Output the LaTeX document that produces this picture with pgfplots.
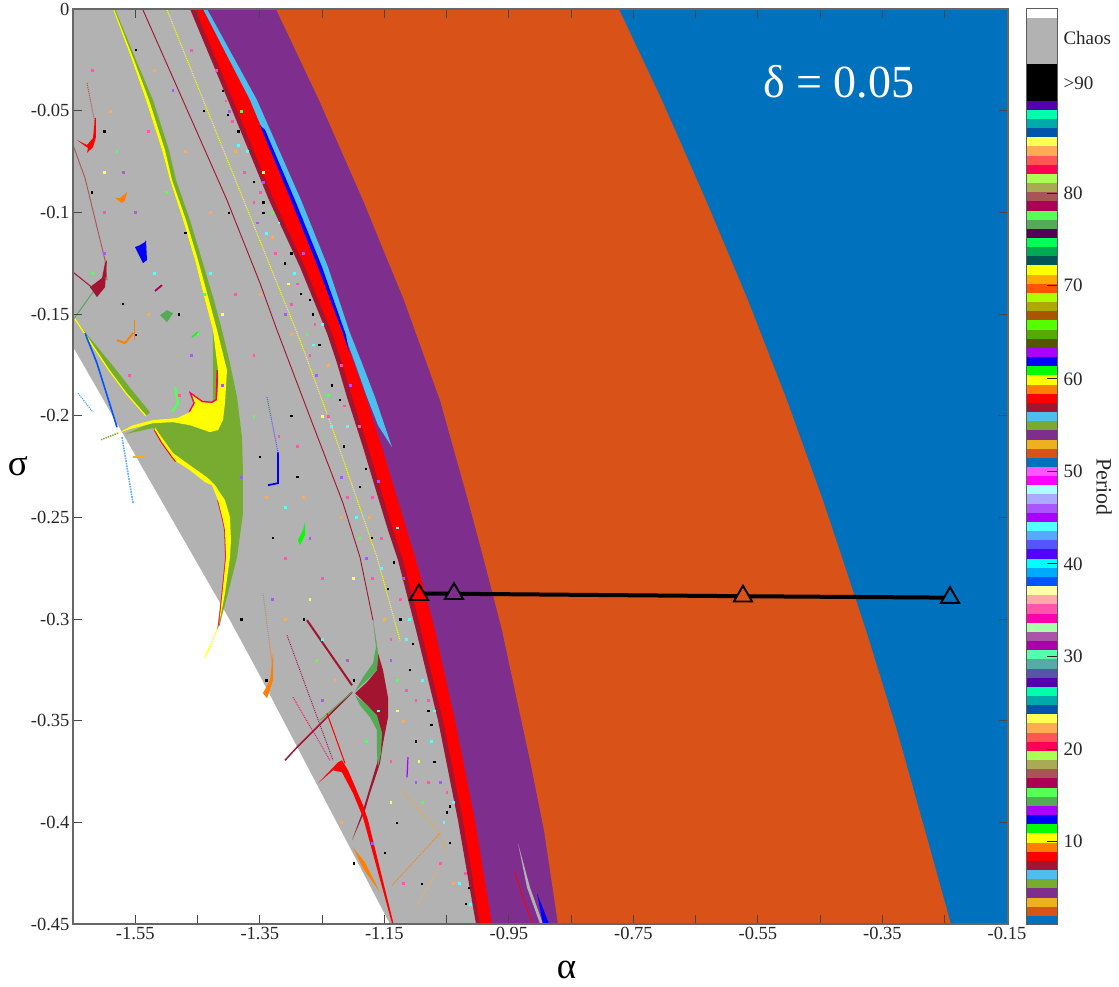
\documentclass[border=0pt]{standalone}
\usepackage{pgfplots}
\pgfplotsset{compat=1.18}
\usepackage{fontspec}
\setmainfont{Liberation Serif}
\newcommand\hx[1]{\definecolor{h#1}{HTML}{#1}}
\hx{0072BD}\hx{D95319}\hx{EDB120}\hx{7E2F8E}\hx{77AC30}\hx{4DBEEE}\hx{A2142F}\hx{FF0000}\hx{FF8000}\hx{FFFF00}
\hx{00FF00}\hx{0000FF}\hx{AA00FF}\hx{55AA55}\hx{55FF55}\hx{AA0055}\hx{AA5555}\hx{AAAA55}\hx{AAFF55}\hx{FF0055}
\hx{FF5555}\hx{FFAA55}\hx{FFFF55}\hx{0055AA}\hx{00AAAA}\hx{00FFAA}\hx{5500AA}\hx{5555AA}\hx{55AAAA}\hx{55FFAA}
\hx{AA00AA}\hx{AA55AA}\hx{AAFFAA}\hx{FF00AA}\hx{FF55AA}\hx{FFAAAA}\hx{FFFFAA}\hx{0055FF}\hx{00AAFF}\hx{00FFFF}
\hx{5500FF}\hx{5555FF}\hx{55AAFF}\hx{55FFFF}\hx{AA55FF}\hx{AAAAFF}\hx{AAFFFF}\hx{FF00FF}\hx{FF55FF}\hx{555500}
\hx{55AA00}\hx{55FF00}\hx{AA5500}\hx{AAAA00}\hx{AAFF00}\hx{FF5500}\hx{FFAA00}\hx{005555}\hx{00AA55}\hx{00FF55}
\hx{550055}\hx{B2B2B2}\hx{000000}\hx{FFFFFF}\hx{262626}
\newcommand\band[3]{\addplot[draw=none,fill=h#1] coordinates {(0,#2)(1,#2)(1,#3)(0,#3)} --cycle;}
\newcommand\reg[2]{\addplot[draw=none,fill=h#1] coordinates {#2} --cycle;}
\newcommand\lin[3]{\addplot[h#1,line width=#2pt] coordinates {#3};}
\newcommand\dtl[3]{\addplot[h#1,line width=#2pt,densely dotted] coordinates {#3};}
\newcommand\spk[2]{\addplot[only marks,color=h#1,mark=square*,mark size=0.9pt,mark options={draw=h#1,fill=h#1,line width=0.1pt}] coordinates {#2};}
\newcommand\spkb[2]{\addplot[only marks,color=h#1,mark=square*,mark size=0.65pt,mark options={draw=h#1,fill=h#1,line width=0.1pt}] coordinates {#2};}
\begin{document}
\begin{tikzpicture}[x=1pt,y=1pt]
\path[use as bounding box] (0,0) rectangle (1119,987);
\begin{axis}[
  at={(73pt,63pt)},anchor=south west,scale only axis,width=935pt,height=915pt,
  xmin=-1.65,xmax=-0.1484,ymin=-0.45,ymax=0,
  axis on top,axis line style={color=h262626!70,line width=1.2pt},
  tick align=inside,major tick length=9pt,
  tick style={color=h262626!85,line width=0.9pt},
  xtick={-1.55,-1.45,-1.35,-1.25,-1.15,-1.05,-0.95,-0.85,-0.75,-0.65,-0.55,-0.45,-0.35,-0.25,-0.15},
  xticklabels={-1.55,,-1.35,,-1.15,,-0.95,,-0.75,,-0.55,,-0.35,,-0.15},
  ytick={0,-0.05,-0.1,-0.15,-0.2,-0.25,-0.3,-0.35,-0.4,-0.45},
  yticklabels={0,-0.05,-0.1,-0.15,-0.2,-0.25,-0.3,-0.35,-0.4,-0.45},
  ticklabel style={font=\fontsize{18.5}{20}\selectfont,text=h262626},
  xlabel={α},ylabel={σ},
  x label style={at={(axis description cs:0.528,-0.050)},anchor=center,inner sep=0pt,font=\fontsize{37}{38}\selectfont},
  y label style={at={(axis description cs:-0.0589,0.5005)},rotate=-90,anchor=center,inner sep=0pt,font=\fontsize{37}{38}\selectfont},
]
% chaos / background region
\reg{B2B2B2}{(-1.65,0)(-0.8036,0)(-0.8036,-0.45)(-1.1409,-0.45)(-1.3545,-0.3252)(-1.3979,-0.3006)(-1.6468,-0.1678)(-1.65,-0.1663)}
% specks
\spkb{000000}{(-1.41,-.04)(-1.385,-.06)(-1.36,-.085)(-1.345,-.10)(-1.31,-.125)(-1.30,-.12)(-1.285,-.14)(-1.265,-.15)(-1.255,-.165)(-1.235,-.185)(-1.215,-.215)(-1.19,-.235)(-1.17,-.26)(-1.145,-.285)(-1.125,-.30)(-1.11,-.325)(-1.08,-.345)(-1.07,-.37)(-1.05,-.395)(-1.045,-.41)(-1.02,-.44)(-1.1,-.36)(-1.13,-.40)(-1.20,-.33)(-1.28,-.30)(-1.33,-.26)(-1.55,-.02)(-1.60,-.06)(-1.47,-.11)(-1.57,-.145)(-1.48,-.15)(-1.55,-.16)(-1.40,-.10)(-1.44,-.05)(-1.35,-.22)(-1.30,-.20)(-1.29,-.23)(-1.38,-.30)(-1.34,-.33)(-1.2,-.42)(-1.15,-.415)(-1.09,-.43)(-1.62,-.09)(-1.402,-.052)(-1.345,-.095)(-1.27,-.143)(-1.222,-.192)(-1.18,-.226)(-1.135,-.272)(-1.105,-.312)(-1.075,-.352)(-1.045,-.392)(-1.015,-.432)}
\spk{FF55AA}{(-1.42,-.03)(-1.395,-.055)(-1.35,-.09)(-1.325,-.12)(-1.30,-.145)(-1.27,-.17)(-1.24,-.20)(-1.21,-.24)(-1.17,-.28)(-1.14,-.31)(-1.10,-.34)(-1.08,-.38)(-1.06,-.42)(-1.62,-.03)(-1.60,-.10)(-1.53,-.06)(-1.46,-.02)(-1.39,-.14)(-1.36,-.17)(-1.32,-.21)(-1.25,-.28)(-1.31,-.27)(-1.14,-.37)(-1.12,-.43)(-1.48,-.19)(-1.56,-.18)(-1.29,-.215)(-1.405,-.045)(-1.36,-.095)(-1.29,-.135)(-1.262,-.155)(-1.215,-.195)(-1.17,-.24)(-1.125,-.29)(-1.08,-.34)(-1.05,-.385)(-1.02,-.425)(-1.375,-.08)(-1.22,-.175)(-1.19,-.205)(-1.155,-.26)(-1.115,-.335)}
\spk{55FFFF}{(-1.37,-.07)(-1.34,-.11)(-1.295,-.13)(-1.265,-.165)(-1.235,-.205)(-1.195,-.25)(-1.155,-.275)(-1.115,-.31)(-1.09,-.33)(-1.075,-.36)(-1.055,-.40)(-1.03,-.43)(-1.43,-.13)(-1.52,-.13)(-1.31,-.245)(-1.25,-.31)(-1.16,-.345)(-1.385,-.067)(-1.32,-.105)(-1.25,-.155)(-1.21,-.205)(-1.13,-.255)(-1.11,-.30)(-1.07,-.345)(-1.04,-.39)(-1.012,-.44)}
\spk{AA55FF}{(-1.40,-.05)(-1.355,-.105)(-1.31,-.15)(-1.26,-.18)(-1.22,-.23)(-1.18,-.27)(-1.14,-.32)(-1.10,-.38)(-1.06,-.38)(-1.60,-.12)(-1.57,-.08)(-1.49,-.04)(-1.55,-.10)(-1.46,-.17)(-1.41,-.185)(-1.38,-.23)(-1.33,-.29)(-1.27,-.26)(-1.21,-.32)(-1.17,-.41)(-1.25,-.34)(-1.345,-.085)(-1.28,-.12)(-1.205,-.185)(-1.16,-.232)(-1.12,-.28)}
\spk{55FF55}{(-1.38,-.05)(-1.33,-.10)(-1.275,-.16)(-1.24,-.19)(-1.19,-.26)(-1.13,-.33)(-1.09,-.39)(-1.58,-.07)(-1.50,-.09)(-1.44,-.14)(-1.36,-.20)(-1.26,-.32)(-1.18,-.36)(-1.45,-.16)(-1.62,-.13)}
\spk{FFAA55}{(-1.39,-.07)(-1.30,-.16)(-1.22,-.25)(-1.15,-.30)(-1.12,-.35)(-1.04,-.43)(-1.59,-.05)(-1.52,-.03)(-1.47,-.07)(-1.53,-.15)(-1.43,-.10)(-1.35,-.14)(-1.31,-.30)(-1.28,-.24)(-1.23,-.33)(-1.22,-.40)(-1.34,-.24)(-1.33,-.112)(-1.24,-.175)(-1.175,-.25)}
\spk{FFFF55}{(-1.345,-.08)(-1.305,-.135)(-1.25,-.20)(-1.20,-.28)(-1.13,-.345)(-1.095,-.37)(-1.14,-.39)(-1.60,-.08)(-1.41,-.15)(-1.27,-.29)}
% thin lines
\lin{A2142F}{0.9}{(-1.5376,-0.0005)(-1.4573,-0.0561)(-1.4027,-0.0940)(-1.3497,-0.1348)(-1.3224,-0.1579)(-1.2694,-0.2007)(-1.2164,-0.2430)(-1.1891,-0.2696)(-1.1682,-0.3006)}
\dtl{FFFF00}{1}{(-1.4990,-0.0005)(-1.2854,-0.1629)(-1.2324,-0.2071)(-1.1618,-0.2696)(-1.1248,-0.3105)}
\lin{AA5555}{0.9}{(-1.65,-0.0669)(-1.6307,-0.0831)(-1.5986,-0.1235)(-1.5954,-0.1333)}
\dtl{AA5555}{1}{(-1.6275,-0.0364)(-1.6147,-0.0561)}
\dtl{5555FF}{1}{(-1.3384,-0.1909)(-1.3208,-0.2180)}
\dtl{FF8000}{1}{(-1.3449,-0.2873)(-1.3288,-0.3252)}
% left diagonal band
\reg{77AC30}{(-1.65,-0.1510)(-1.6307,-0.1589)(-1.5842,-0.1761)(-1.5552,-0.1875)(-1.5263,-0.1983)(-1.5328,-0.2002)(-1.5649,-0.1889)(-1.5922,-0.1776)}
\lin{FFFF00}{1.2}{(-1.65,-0.1510)(-1.5922,-0.1776)(-1.5649,-0.1889)(-1.5328,-0.2002)}
\lin{0055FF}{1.6}{(-1.6307,-0.1594)(-1.6115,-0.1742)(-1.5793,-0.2057)}
\dtl{55AAFF}{1.6}{(-1.5713,-0.2106)(-1.5536,-0.2430)}
\dtl{55AAFF}{1.2}{(-1.642,-0.1889)(-1.6179,-0.1983)}
% main long band
\reg{77AC30}{(-1.5858,0)(-1.5552,-0.0251)(-1.5328,-0.0448)(-1.5071,-0.0694)(-1.4942,-0.0841)(-1.4733,-0.1038)(-1.4541,-0.1235)(-1.4380,-0.1432)(-1.4252,-0.1579)(-1.4107,-0.1579)(-1.4236,-0.1432)(-1.4428,-0.1235)(-1.4621,-0.1038)(-1.4846,-0.0841)(-1.4958,-0.0694)(-1.5215,-0.0448)(-1.5488,-0.0251)(-1.5825,0)}
\reg{FFFF00}{(-1.5858,0)(-1.5552,-0.0251)(-1.5328,-0.0448)(-1.5071,-0.0694)(-1.4942,-0.0841)(-1.4733,-0.1038)(-1.4541,-0.1235)(-1.4380,-0.1432)(-1.4252,-0.1579)(-1.4187,-0.1579)(-1.4316,-0.1432)(-1.4492,-0.1235)(-1.4685,-0.1038)(-1.4910,-0.0841)(-1.5022,-0.0694)(-1.5279,-0.0448)(-1.5520,-0.0251)(-1.5842,0)}
% big star
\reg{77AC30}{(-1.4252,-0.1579)(-1.4107,-0.1579)(-1.3979,-0.1742)(-1.3866,-0.1909)(-1.3786,-0.2106)(-1.3770,-0.2283)(-1.3770,-0.2480)(-1.3866,-0.2696)(-1.4011,-0.2873)(-1.4139,-0.3021)(-1.4187,-0.3055)(-1.4107,-0.2859)(-1.4059,-0.2711)(-1.4075,-0.2499)(-1.4187,-0.2352)(-1.4348,-0.2307)(-1.4621,-0.2244)(-1.4862,-0.2209)(-1.5055,-0.2130)(-1.5215,-0.2061)(-1.5665,-0.2091)(-1.5215,-0.2032)(-1.4460,-0.2022)(-1.4252,-0.1924)}
\lin{FF0055}{3}{(-1.4621,-0.1983)(-1.4541,-0.1938)(-1.4589,-0.1899)(-1.4428,-0.1934)(-1.4268,-0.1938)(-1.4187,-0.1924)(-1.4171,-0.1776)}
\lin{FF0055}{1.6}{(-1.4155,-0.3031)(-1.4107,-0.2893)(-1.4043,-0.2696)(-1.4059,-0.2563)(-1.4091,-0.2514)(-1.4171,-0.2416)}
\lin{FF0000}{2.2}{(-1.4846,-0.2224)(-1.4910,-0.2199)(-1.5071,-0.2130)(-1.5183,-0.2071)}
\reg{FFFF00}{(-1.4252,-0.1579)(-1.4187,-0.1579)(-1.4027,-0.1776)(-1.4059,-0.1938)(-1.4091,-0.2022)(-1.4171,-0.2071)(-1.4300,-0.2081)(-1.4621,-0.2047)(-1.4894,-0.2032)(-1.5215,-0.2037)(-1.5585,-0.2066)(-1.5777,-0.2086)(-1.5536,-0.2047)(-1.5215,-0.2022)(-1.4830,-0.2012)(-1.4621,-0.1983)(-1.4541,-0.1938)(-1.4589,-0.1899)(-1.4428,-0.1934)(-1.4268,-0.1938)(-1.4187,-0.1924)(-1.4171,-0.1840)(-1.4171,-0.1776)}
\reg{FFFF00}{(-1.5183,-0.2057)(-1.5135,-0.2081)(-1.4894,-0.2184)(-1.4621,-0.2244)(-1.4348,-0.2303)(-1.4219,-0.2342)(-1.4059,-0.2416)(-1.3979,-0.2499)(-1.3963,-0.2613)(-1.3979,-0.2696)(-1.4059,-0.2873)(-1.4139,-0.3006)(-1.4155,-0.3031)(-1.4107,-0.2893)(-1.4043,-0.2696)(-1.4059,-0.2563)(-1.4091,-0.2514)(-1.4171,-0.2416)(-1.4268,-0.2342)(-1.4380,-0.2327)(-1.4621,-0.2268)(-1.4846,-0.2224)(-1.4910,-0.2199)(-1.5071,-0.2130)(-1.5183,-0.2071)}
\dtl{FFFF00}{1.4}{(-1.4187,-0.3055)(-1.4380,-0.3190)}
\dtl{77AC30}{1.4}{(-1.5777,-0.2086)(-1.6060,-0.2120)}
\lin{EDB120}{1.5}{(-1.5536,-0.2204)(-1.5343,-0.2204)}
% crimson star with lines
\reg{A2142F}{(-1.1682,-0.3006)(-1.1602,-0.3168)(-1.1521,-0.3252)(-1.1441,-0.3385)(-1.1441,-0.3483)(-1.1521,-0.3611)(-1.1570,-0.3710)(-1.1730,-0.3857)(-1.1810,-0.3941)(-1.2019,-0.4089)(-1.1843,-0.3941)(-1.1618,-0.3710)(-1.1537,-0.3562)(-1.1618,-0.3483)(-1.1778,-0.3424)(-1.1971,-0.3365)(-1.1778,-0.3311)(-1.1618,-0.3252)(-1.1602,-0.3168)(-1.1650,-0.3070)}
\reg{55AA55}{(-1.1682,-0.3006)(-1.1602,-0.3168)(-1.1618,-0.3252)(-1.1778,-0.3301)(-1.1971,-0.3355)(-1.1843,-0.3287)(-1.1682,-0.3218)(-1.1634,-0.3139)}
\reg{55AA55}{(-1.1971,-0.3375)(-1.1778,-0.3424)(-1.1618,-0.3474)(-1.1537,-0.3562)(-1.1554,-0.3660)(-1.1602,-0.3729)(-1.1618,-0.3660)(-1.1618,-0.3547)(-1.1730,-0.3483)(-1.1891,-0.3424)}
\lin{A2142F}{2}{(-1.2742,-0.3006)(-1.2019,-0.3326)}
\lin{A2142F}{1.5}{(-1.2019,-0.3360)(-1.2903,-0.3631)(-1.3095,-0.3695)}
\lin{55AA55}{0.9}{(-1.2019,-0.3360)(-1.2540,-0.3500)}
\reg{FF0000}{(-1.2244,-0.3705)(-1.2565,-0.3808)(-1.2324,-0.3744)(-1.2180,-0.3754)(-1.2003,-0.3857)(-1.1843,-0.3975)(-1.1377,-0.4497)(-1.1345,-0.4507)(-1.1762,-0.3990)(-1.1843,-0.3916)(-1.2083,-0.3744)(-1.2180,-0.3695)}
\lin{FF0000}{1}{(-1.2421,-0.3464)(-1.2132,-0.3710)}
\dtl{AA0055}{0.9}{(-1.3063,-0.3080)(-1.2324,-0.3695)}
\dtl{FF0055}{0.9}{(-1.2967,-0.3385)(-1.2373,-0.3695)}
% small features
\reg{FF0000}{(-1.6131,-0.0536)(-1.6131,-0.0630)(-1.6179,-0.0679)(-1.6275,-0.0708)(-1.6259,-0.0684)(-1.6436,-0.0645)(-1.6275,-0.0669)(-1.6179,-0.0635)(-1.6147,-0.0536)}
\reg{A2142F}{(-1.5954,-0.1235)(-1.5986,-0.1368)(-1.6115,-0.1417)(-1.6227,-0.1368)(-1.6034,-0.1323)(-1.5986,-0.1250)}
\lin{A2142F}{1}{(-1.65,-0.1294)(-1.6179,-0.1373)}
\lin{55AA55}{1}{(-1.65,-0.1530)(-1.6179,-0.1392)}
\reg{FF8000}{(-1.3288,-0.3168)(-1.3288,-0.3301)(-1.3384,-0.3390)(-1.3449,-0.3365)(-1.3336,-0.3301)}
\reg{FF8000}{(-1.2003,-0.4123)(-1.1810,-0.4197)(-1.1570,-0.4344)(-1.1843,-0.4226)}
\dtl{FFAA00}{0.9}{(-1.1200,-0.3852)(-1.0654,-0.4039)(-1.0494,-0.4138)}
\dtl{FF8000}{0.9}{(-1.1377,-0.4310)(-1.0606,-0.4054)}
\dtl{FFAA55}{0.9}{(-1.0975,-0.4408)(-1.0574,-0.4197)}
\lin{AA00FF}{1.2}{(-1.1120,-0.3680)(-1.1136,-0.3779)}
\lin{0000FF}{1.8}{(-1.3208,-0.2180)(-1.3208,-0.2332)(-1.3368,-0.2342)}
\reg{00FF00}{(-1.2774,-0.2524)(-1.2774,-0.2588)(-1.2854,-0.2637)(-1.2886,-0.2613)(-1.2806,-0.2563)}
\lin{55FF55}{2.4}{(-1.4862,-0.1860)(-1.4814,-0.1938)(-1.4910,-0.1983)}
\lin{FF8000}{2}{(-1.5536,-0.1594)(-1.5665,-0.1643)(-1.5793,-0.1629)}
\lin{00FF00}{1.4}{(-1.4492,-0.1589)(-1.4589,-0.1614)}
\reg{FF8000}{(-1.5633,-0.0900)(-1.5665,-0.0940)(-1.5713,-0.0954)(-1.5825,-0.0930)(-1.5745,-0.0930)}
\reg{0000FF}{(-1.5328,-0.1137)(-1.5312,-0.1235)(-1.5376,-0.1250)(-1.5424,-0.1220)(-1.5504,-0.1171)(-1.5424,-0.1161)(-1.5344,-0.1146)}
\reg{55AA55}{(-1.4894,-0.1496)(-1.4990,-0.1540)(-1.5103,-0.1506)(-1.4990,-0.1481)}
\lin{AA0055}{1.8}{(-1.5183,-0.1387)(-1.5071,-0.1358)}
\lin{FF8000}{1}{(-1.5520,-0.1530)(-1.5520,-0.1629)}
% crimson, red, purple, orange, blue regions: each from its left edge to the right side
\reg{A2142F}{(-1.4621,0)(-1.4011,-0.0448)(-1.3352,-0.0940)(-1.2854,-0.1269)(-1.2421,-0.1594)(-1.2260,-0.1742)(-1.2100,-0.1909)(-1.1843,-0.2155)(-1.1602,-0.2401)(-1.1441,-0.2563)(-1.1280,-0.2711)(-1.1136,-0.2883)(-1.0991,-0.3055)(-1.0638,-0.3498)(-1.0317,-0.3990)(-1.0028,-0.45)(-0.1484,-0.45)(-0.1484,0)}
\reg{FF0000}{(-1.4541,0)(-1.3930,-0.0448)(-1.3272,-0.0940)(-1.2774,-0.1269)(-1.2340,-0.1594)(-1.2180,-0.1742)(-1.2019,-0.1909)(-1.1762,-0.2155)(-1.1521,-0.2401)(-1.1361,-0.2563)(-1.1200,-0.2711)(-1.1056,-0.2883)(-1.0911,-0.3055)(-1.0558,-0.3498)(-1.0237,-0.3990)(-0.9964,-0.45)(-0.1484,-0.45)(-0.1484,0)}
\reg{7E2F8E}{(-1.4412,0)(-1.3657,-0.0448)(-1.2999,-0.0940)(-1.2565,-0.1269)(-1.2164,-0.1594)(-1.1987,-0.1742)(-1.1794,-0.1909)(-1.1537,-0.2155)(-1.1297,-0.2401)(-1.1136,-0.2563)(-1.0991,-0.2711)(-1.0831,-0.2883)(-1.0686,-0.3055)(-1.0365,-0.3498)(-1.0044,-0.3990)(-0.9771,-0.45)(-0.1484,-0.45)(-0.1484,0)}
\reg{D95319}{(-1.3240,0)(-1.2549,-0.0448)(-1.1843,-0.0940)(-1.1184,-0.1432)(-1.0606,-0.1924)(-1.0156,-0.2416)(-0.9899,-0.2711)(-0.9610,-0.3055)(-0.9369,-0.3400)(-0.9161,-0.3695)(-0.8936,-0.4039)(-0.8711,-0.45)(-0.1484,-0.45)(-0.1484,0)}
\reg{0072BD}{(-0.7731,0)(-0.7041,-0.0448)(-0.6334,-0.0940)(-0.5659,-0.1432)(-0.5033,-0.1924)(-0.4455,-0.2416)(-0.4134,-0.2711)(-0.3764,-0.3055)(-0.3267,-0.3547)(-0.2817,-0.4039)(-0.2399,-0.45)(-0.1484,-0.45)(-0.1484,0)}
% slivers
\reg{4DBEEE}{(-1.4348,0)(-1.3545,-0.0448)(-1.2838,-0.0940)(-1.2405,-0.1269)(-1.2051,-0.1594)(-1.1859,-0.1742)(-1.1650,-0.1909)(-1.1377,-0.2155)(-1.1602,-0.2047)(-1.1778,-0.1909)(-1.1971,-0.1742)(-1.2148,-0.1594)(-1.2549,-0.1269)(-1.2983,-0.0940)(-1.3657,-0.0448)(-1.4412,0)}
\reg{0000FF}{(-1.3497,-0.0571)(-1.3416,-0.0595)(-1.2935,-0.0940)(-1.2501,-0.1269)(-1.2116,-0.1604)(-1.2067,-0.1688)(-1.2164,-0.1594)(-1.2565,-0.1269)(-1.2999,-0.0940)(-1.3465,-0.0595)}
\reg{B2B2B2}{(-0.9353,-0.4103)(-0.9161,-0.4320)(-0.8952,-0.45)(-0.8999,-0.45)(-0.9209,-0.4320)}
\reg{0000FF}{(-0.9048,-0.4349)(-0.8855,-0.45)(-0.8952,-0.45)}
\lin{FF0000}{0.9}{(-0.9401,-0.4246)(-0.9273,-0.4374)(-0.9112,-0.45)}
% black continuation line
\addplot[black,line width=4pt] coordinates {(-1.0943,-0.2875)(-1.0381,-0.2876)(-0.5740,-0.2888)(-0.2415,-0.2895)};
\addplot[only marks,mark=triangle*,mark size=10.5pt,mark options={draw=black,fill=hFF0000,line width=1.9pt}] coordinates {(-1.0943,-0.2881)};
\addplot[only marks,mark=triangle*,mark size=10.5pt,mark options={draw=black,fill=h7E2F8E,line width=1.9pt}] coordinates {(-1.0381,-0.2876)};
\addplot[only marks,mark=triangle*,mark size=10.5pt,mark options={draw=black,fill=hD95319,line width=1.9pt}] coordinates {(-0.5740,-0.2888)};
\addplot[only marks,mark=triangle*,mark size=10.5pt,mark options={draw=black,fill=h0072BD,line width=1.9pt}] coordinates {(-0.2415,-0.2895)};
\node[text=white,font=\fontsize{46}{48}\selectfont] at (axis description cs:0.819,0.920) {δ = 0.05};
\end{axis}
\begin{axis}[
  at={(1026pt,62pt)},anchor=south west,scale only axis,width=31pt,height=916pt,
  xmin=0,xmax=1,ymin=0,ymax=100,axis on top,clip=false,
  axis line style={color=h262626!75,line width=1pt},
  xtick=\empty,ytick pos=right,yticklabel pos=right,tick align=inside,
  major tick length=10pt,tick style={color=h262626,line width=0.7pt},
  ytick={9.17,19.22,29.38,39.43,49.48,59.63,69.79,79.84},
  yticklabels={10,20,30,40,50,60,70,80},
  extra y ticks={91.85,96.8},extra y tick labels={>90,Chaos},
  extra y tick style={major tick length=0pt,yticklabel pos=right},
  ticklabel style={font=\fontsize{19}{20}\selectfont,text=h262626},
  yticklabel style={xshift=3pt},
]
\band{0072BD}{0}{1}\band{D95319}{1}{2}\band{EDB120}{2}{3}\band{7E2F8E}{3}{4}\band{77AC30}{4}{5}
\band{4DBEEE}{5}{6}\band{A2142F}{6}{7}\band{FF0000}{7}{8}\band{FF8000}{8}{9}\band{FFFF00}{9}{10}
\band{00FF00}{10}{11}\band{0000FF}{11}{12}\band{AA00FF}{12}{13}\band{55AA55}{13}{14}\band{55FF55}{14}{15}
\band{AA0055}{15}{16}\band{AA5555}{16}{17}\band{AAAA55}{17}{18}\band{AAFF55}{18}{19}\band{FF0055}{19}{20}
\band{FF5555}{20}{21}\band{FFAA55}{21}{22}\band{FFFF55}{22}{23}\band{0055AA}{23}{24}\band{00AAAA}{24}{25}
\band{00FFAA}{25}{26}\band{5500AA}{26}{27}\band{5555AA}{27}{28}\band{55AAAA}{28}{29}\band{55FFAA}{29}{30}
\band{AA00AA}{30}{31}\band{AA55AA}{31}{32}\band{AAFFAA}{32}{33}\band{FF00AA}{33}{34}\band{FF55AA}{34}{35}
\band{FFAAAA}{35}{36}\band{FFFFAA}{36}{37}\band{0055FF}{37}{38}\band{00AAFF}{38}{39}\band{00FFFF}{39}{40}
\band{5500FF}{40}{41}\band{5555FF}{41}{42}\band{55AAFF}{42}{43}\band{55FFFF}{43}{44}\band{AA00FF}{44}{45}
\band{AA55FF}{45}{46}\band{AAAAFF}{46}{47}\band{AAFFFF}{47}{48}\band{FF00FF}{48}{49}\band{FF55FF}{49}{50}
\band{0072BD}{50}{51}\band{D95319}{51}{52}\band{EDB120}{52}{53}\band{7E2F8E}{53}{54}\band{77AC30}{54}{55}
\band{4DBEEE}{55}{56}\band{A2142F}{56}{57}\band{FF0000}{57}{58}\band{FF8000}{58}{59}\band{FFFF00}{59}{60}
\band{00FF00}{60}{61}\band{0000FF}{61}{62}\band{AA00FF}{62}{63}\band{555500}{63}{64}\band{55AA00}{64}{65}
\band{55FF00}{65}{66}\band{AA5500}{66}{67}\band{AAAA00}{67}{68}\band{AAFF00}{68}{69}\band{FF5500}{69}{70}
\band{FFAA00}{70}{71}\band{FFFF00}{71}{72}\band{005555}{72}{73}\band{00AA55}{73}{74}\band{00FF55}{74}{75}
\band{550055}{75}{76}\band{55AA55}{76}{77}\band{55FF55}{77}{78}\band{AA0055}{78}{79}\band{AA5555}{79}{80}
\band{AAAA55}{80}{81}\band{AAFF55}{81}{82}\band{FF0055}{82}{83}\band{FF5555}{83}{84}\band{FFAA55}{84}{85}
\band{FFFF55}{85}{86}\band{0055AA}{86}{87}\band{00AAAA}{87}{88}\band{00FFAA}{88}{89}\band{5500AA}{89}{90}
\band{000000}{90}{94}\band{B2B2B2}{94}{99}\band{FFFFFF}{99}{100}
\node[rotate=-90,font=\fontsize{22}{24}\selectfont,text=h262626] at (axis description cs:2.52,0.478) {Period};
\end{axis}
\end{tikzpicture}
\end{document}
